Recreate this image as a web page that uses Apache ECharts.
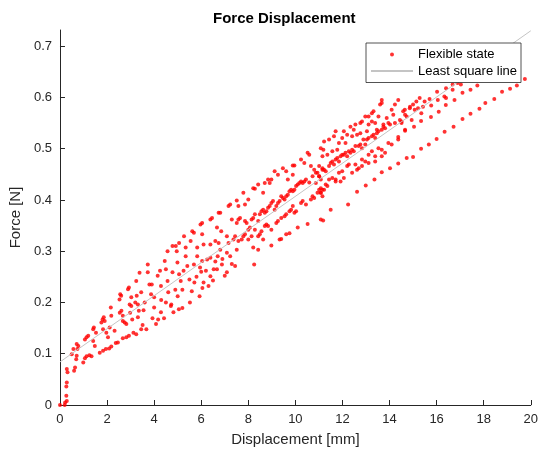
<!DOCTYPE html>
<html>
<head>
<meta charset="utf-8">
<script src="https://cdn.jsdelivr.net/npm/echarts@6/dist/echarts.min.js"></script>
<style>
  html, body { margin: 0; padding: 0; background: #fff; }
  #main { width: 541px; height: 452px; }
</style>
</head>
<body>
<div id="main"></div>
<script>
// 力-位移散点数据 [位移 mm, 力 N]
var startPts = [
    [0,0],[0.2,0],[0.22,0.005],[0.29,0.008],[0.27,0.018],[0.27,0.036],[0.29,0.044],[0.32,0.064],[0.29,0.07],
    [0.5,0.099],[0.57,0.109],[0.6,0.067],[0.64,0.073],[0.69,0.089],[0.71,0.096],[0.74,0.109],[0.78,0.115],[0.71,0.119],
    [0.99,0.083],[1.06,0.091],[1.13,0.095],[1.25,0.097],[1.34,0.095],[1.06,0.128],[1.13,0.132],[1.2,0.135],
    [1.41,0.125],[1.48,0.115],[1.41,0.148],[1.44,0.151],[1.53,0.141]
];
var leftPts = [
    [1.69,0.102],[1.83,0.106],[1.95,0.109],[2.09,0.11],[2.18,0.114],[2.37,0.121],[2.46,0.122],[2.67,0.13],[2.82,0.132],
    [2.93,0.135],[3.12,0.141],[3.24,0.138],[1.76,0.161],[1.81,0.167],[1.86,0.171],[1.9,0.164],[1.83,0.148],[1.97,0.141],
    [2.04,0.132],[2.11,0.151],[2.18,0.174],[2.32,0.145],[2.54,0.18],[2.61,0.184],[2.67,0.174],[2.67,0.164],[2.75,0.161],
    [2.82,0.158],[2.89,0.226],[2.93,0.229],[2.96,0.196],[3.03,0.193],[2.98,0.18],[3.07,0.167],[3.24,0.242],[3.26,0.213],
    [3.31,0.196],[3.35,0.184],[3.38,0.258],[3.31,0.171],[2.56,0.216],[2.16,0.19],[2.53,0.206],[2.6,0.213],[3.03,0.21],[3.2,0.2]
];
var midLeftPts = [
    [3.45,0.148],[3.51,0.156],[3.67,0.148],[3.93,0.169],[4.08,0.158],[4.17,0.167],[4.29,0.181],[4.42,0.169],[4.71,0.193],
    [4.73,0.196],[4.82,0.181],[5.05,0.187],[5.2,0.189],[5.52,0.2],[5.93,0.212],[6.31,0.232],[7.09,0.259],[7.44,0.271],
    [5.71,0.239],[6.1,0.239],[6.39,0.251],[6.53,0.265],[6.67,0.265],[6.88,0.274],[7.23,0.29],[7.51,0.303],
    [3.45,0.22],[3.73,0.274],[3.73,0.259],[3.8,0.235],[3.87,0.216],[4.15,0.252],[4.29,0.232],[4.45,0.281],[4.5,0.265],
    [4.57,0.242],[4.78,0.259],[4.96,0.3],[4.99,0.278],[5.06,0.255],[5.13,0.242],[5.34,0.29],[5.41,0.271],[5.69,0.274],
    [5.83,0.29],[6.04,0.281],[6.25,0.284],[6.39,0.287],[6.81,0.303],[7.09,0.297],
    [3.6,0.2],[4.0,0.21],[4.3,0.205],[4.6,0.22],[4.9,0.225],[5.2,0.225],[5.5,0.245],[5.8,0.25],[6.0,0.26],[6.2,0.262],
    [6.6,0.28],[6.9,0.285],[4.0,0.19],[4.5,0.2],[5.0,0.212],[5.6,0.222],[6.05,0.228],[6.5,0.243],[7.0,0.252],[3.55,0.185],
    [3.9,0.235],[4.25,0.262],[5.25,0.262],[5.95,0.268],[6.7,0.29],[7.3,0.275]
];
var upperMidPts = [
    [7.58,0.388],[6.81,0.375],[6.74,0.375],[6.46,0.365],[6.39,0.362],[6.04,0.355],[5.97,0.352],[5.69,0.336],[5.62,0.339],
    [5.27,0.329],[5.06,0.316],[4.92,0.31],[4.78,0.31],[5.55,0.32],[6.04,0.333],[6.67,0.346],[6.85,0.339],[6.6,0.32],
    [6.74,0.316],[7.09,0.329],[7.16,0.316],[6.39,0.313],[6.1,0.313],[5.83,0.307],[5.34,0.307],[4.57,0.3]
];
var midPts = [
    [7.16,0.388],[7.23,0.391],[7.51,0.399],[7.79,0.414],[8.0,0.401],[7.86,0.391],[8.21,0.423],[8.28,0.422],[8.42,0.43],
    [8.63,0.414],[8.7,0.433],[8.84,0.44],[8.91,0.433],[8.98,0.44],[9.12,0.456],[9.26,0.449],[9.47,0.462],[9.61,0.456],
    [9.68,0.44],[9.89,0.467],[9.96,0.467],[9.89,0.449],[10.24,0.479],[10.38,0.472],[10.52,0.492],[10.59,0.488],
    [10.66,0.466],[10.8,0.459],[10.87,0.453],[10.94,0.453],[11.01,0.446],[11.08,0.44],[11.15,0.459],[11.19,0.498],
    [7.3,0.362],[7.51,0.355],[7.58,0.362],[7.65,0.365],[7.86,0.359],[7.93,0.355],[8.0,0.342],[8.07,0.346],[8.14,0.362],
    [8.21,0.365],[8.28,0.372],[8.42,0.359],[8.49,0.372],[8.56,0.378],[8.63,0.381],[8.7,0.375],[8.77,0.378],[8.84,0.385],
    [8.91,0.388],[8.98,0.394],[9.05,0.398],[9.12,0.381],[9.19,0.388],[9.26,0.394],[9.33,0.398],[9.4,0.407],[9.47,0.404],
    [9.54,0.401],[9.61,0.407],[9.68,0.41],[9.75,0.417],[9.82,0.42],[9.89,0.417],[9.96,0.42],[10.03,0.427],[10.1,0.43],
    [10.17,0.433],[10.24,0.436],[10.31,0.433],[10.38,0.436],[10.45,0.44],[10.59,0.434],[10.73,0.446],[10.87,0.433],
    [11.01,0.42],[11.08,0.414],[11.15,0.407],[11.22,0.42],
    [7.37,0.323],[7.44,0.329],[7.58,0.32],[7.72,0.323],[7.79,0.329],[7.86,0.333],[8.0,0.323],[8.14,0.329],[8.28,0.342],
    [8.42,0.329],[8.49,0.333],[8.56,0.339],[8.7,0.349],[8.77,0.352],[8.84,0.349],[8.98,0.342],[9.19,0.355],[9.26,0.359],
    [9.4,0.365],[9.54,0.368],[9.61,0.372],[9.75,0.378],[9.82,0.381],[9.89,0.388],[9.96,0.375],[10.03,0.378],[10.24,0.394],
    [10.31,0.398],[10.45,0.391],[10.66,0.401],[10.73,0.407],[10.8,0.404],[10.94,0.414],[11.08,0.423],
    [8.21,0.307],[8.42,0.303],[8.63,0.323],[8.98,0.311],[9.33,0.323],[9.4,0.324],[9.61,0.333],[9.75,0.335],[10.1,0.346],
    [10.52,0.353],[11.08,0.362],[8.25,0.274]
];
var midRightPts = [
    [11.08,0.501],[11.22,0.514],[11.43,0.518],[11.64,0.524],[11.71,0.534],[12.06,0.534],[12.34,0.543],[12.48,0.537],
    [12.55,0.547],[12.76,0.55],[12.83,0.553],[12.97,0.563],[13.11,0.563],[13.25,0.569],[13.32,0.573],[13.6,0.586],
    [13.67,0.589],[13.67,0.595],[14.37,0.595],[14.23,0.586],[14.09,0.576],[14.87,0.582],[14.58,0.573],[14.66,0.566],
    [14.73,0.563],[14.44,0.556],[14.51,0.55],[14.16,0.566],[13.88,0.56],[13.95,0.55],[13.74,0.547],[13.53,0.563],
    [13.39,0.55],[13.46,0.537],[13.25,0.553],[13.11,0.547],[13.04,0.534],[12.76,0.53],[12.62,0.527],[12.41,0.524],
    [12.2,0.527],[12.13,0.511],[11.85,0.511],[11.99,0.521],[11.78,0.498],[11.57,0.495],[11.36,0.488],[11.15,0.485],
    [11.01,0.466],[11.15,0.462],[11.22,0.459],[11.29,0.456],[11.43,0.466],[11.5,0.472],[11.57,0.475],[11.64,0.469],
    [11.71,0.479],[11.78,0.482],[11.85,0.475],[11.92,0.485],[11.99,0.488],[12.06,0.488],[12.13,0.492],[12.2,0.485],
    [12.27,0.495],[12.34,0.492],[12.41,0.498],[12.48,0.495],[12.55,0.505],[12.69,0.505],[12.76,0.508],[12.83,0.501],
    [12.89,0.518],[12.97,0.508],[13.04,0.518],[13.11,0.521],[13.25,0.524],[13.32,0.527],[13.39,0.521],[13.46,0.53],
    [13.53,0.534],[13.67,0.537],[13.74,0.543],[13.81,0.54],[14.02,0.547],[14.23,0.55],[14.66,0.537],[14.94,0.556],
    [11.01,0.446],[11.15,0.42],[11.29,0.43],[11.43,0.44],[11.57,0.443],[11.71,0.436],[11.85,0.453],[11.99,0.456],
    [12.06,0.443],[12.2,0.466],[12.27,0.469],[12.41,0.453],[12.55,0.469],[12.62,0.459],[12.69,0.462],[12.83,0.479],
    [12.97,0.475],[13.11,0.488],[13.25,0.495],[13.39,0.485],[13.53,0.501],[13.67,0.498],[13.81,0.492],[13.95,0.511],
    [14.09,0.508],[14.37,0.518],
    [11.08,0.414],[11.36,0.427],[11.71,0.44],[11.92,0.436],[12.83,0.466],[13.11,0.472],[13.39,0.475],[13.67,0.485],
    [14.02,0.462],[14.37,0.471],[14.73,0.482],[15.0,0.484],
    [11.18,0.36],[11.5,0.381],[12.24,0.391],[12.62,0.416],[12.99,0.428],[13.36,0.44],[13.67,0.454]
];
var rightPts = [
    [14.37,0.523],[14.66,0.535],[15.04,0.543],[15.34,0.554],[15.76,0.562],[16.09,0.572],[16.39,0.585],[16.76,0.595],
    [17.1,0.609],[17.44,0.615],[17.73,0.623],
    [15.34,0.5],[15.67,0.508],[16.0,0.519],[16.34,0.533],[16.72,0.543],[17.1,0.558],[17.44,0.568],[17.82,0.578],
    [18.07,0.589],[18.45,0.597],[18.78,0.611],[19.12,0.617],[19.41,0.623],[19.75,0.636],
    [16.02,0.611],[16.4,0.618],[16.68,0.625],[16.89,0.628],[17.03,0.625],[16.68,0.615],[16.33,0.602],[16.4,0.599],
    [16.05,0.595],[15.7,0.597],[15.49,0.592],[15.28,0.599],[15.14,0.592],[15.0,0.586],[14.86,0.579],[14.65,0.576],
    [15.07,0.576],[15.21,0.579],[15.42,0.582],[15.77,0.584],[15.35,0.569],[14.51,0.553]
];

// 最小二乘拟合直线
var lsqIntercept = 0.084;
var lsqSlope = 0.0323;
var lsqRange = [0, 20];

var yTicks = [0, 0.1, 0.2, 0.3, 0.4, 0.5, 0.6, 0.7];

;(function(){
    var chart = echarts.init(document.getElementById('main'));
    var points = [].concat(startPts, leftPts, midLeftPts, upperMidPts, midPts, midRightPts, rightPts);
    var lsqLine = lsqRange.map(function(x){ return [x, lsqIntercept + lsqSlope * x]; });
    var axisColor = '#262626';

    var option = {
        animation: false,
        backgroundColor: '#fff',
        textStyle: { fontFamily: 'Liberation Sans, Arial, sans-serif' },
        title: {
            text: 'Force Displacement',
            left: 208,
            top: 6,
            textStyle: { fontSize: 15, fontWeight: 'bold', color: '#000' }
        },
        legend: {
            orient: 'vertical',
            left: 366,
            top: 43,
            padding: [5, 4, 5, 4],
            itemWidth: 42,
            itemHeight: 4,
            itemGap: 3.5,
            backgroundColor: '#fff',
            borderColor: axisColor,
            borderWidth: 0.8,
            textStyle: { fontSize: 13, color: '#000' },
            data: [
                'Flexible state',
                // 图例中直线不显示中间的圆点
                { name: 'Least square line', itemStyle: { opacity: 0 } }
            ]
        },
        grid: { left: 58, right: 7, top: 30, bottom: 46 },
        xAxis: {
            type: 'value',
            min: 0,
            max: 20,
            interval: 2,
            name: 'Displacement [mm]',
            nameLocation: 'middle',
            nameGap: 27,
            nameTextStyle: { fontSize: 15, color: axisColor },
            axisLine: { lineStyle: { color: axisColor, width: 1 } },
            axisTick: { inside: true, length: 5, lineStyle: { color: axisColor } },
            axisLabel: { fontSize: 13, color: axisColor, margin: 8 },
            splitLine: { show: false }
        },
        yAxis: {
            type: 'value',
            min: 0,
            max: 0.7315,
            name: 'Force [N]',
            nameLocation: 'middle',
            nameGap: 34,
            nameTextStyle: { fontSize: 15, color: axisColor },
            axisLine: { show: true, lineStyle: { color: axisColor, width: 1 } },
            axisTick: { show: true, inside: true, length: 5, customValues: yTicks, lineStyle: { color: axisColor } },
            axisLabel: { fontSize: 13, color: axisColor, margin: 8, customValues: yTicks },
            splitLine: { show: false }
        },
        series: [{
            name: 'Flexible state',
            type: 'scatter',
            data: points,
            symbolSize: 4,
            itemStyle: { color: '#ff0000' }
        }, {
            name: 'Least square line',
            type: 'line',
            data: lsqLine,
            symbol: 'none',
            itemStyle: { color: '#c4c4c4' },
            lineStyle: { color: '#c4c4c4', width: 1 },
            z: 3
        }]
    };

    chart.setOption(option);
})()
</script>
</body>
</html>
